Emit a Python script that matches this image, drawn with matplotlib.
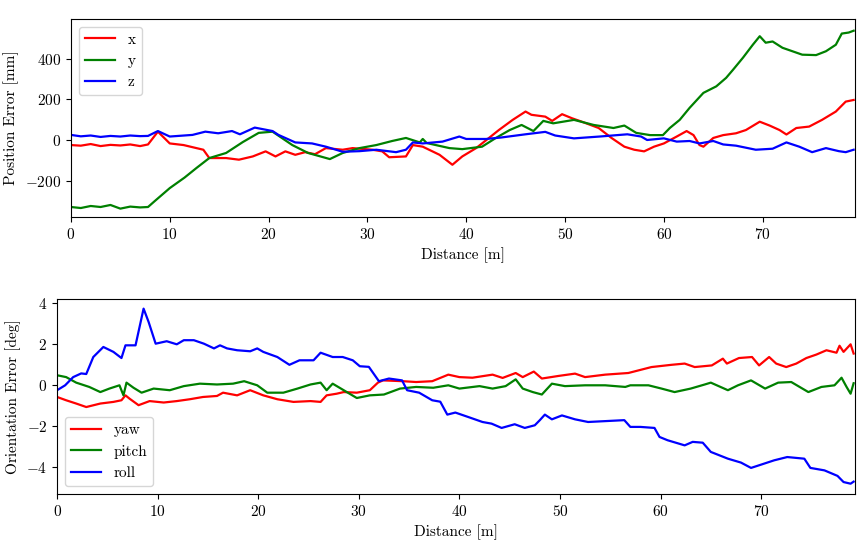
import matplotlib
matplotlib.use('Agg')
import matplotlib.pyplot as plt

# Ustawienia czcionki (Computer Modern)
plt.rcParams['font.family'] = 'serif'
plt.rcParams['font.serif'] = ['cmr10']
plt.rcParams['mathtext.fontset'] = 'cm'
plt.rcParams['axes.formatter.use_mathtext'] = True
plt.rcParams['font.size'] = 11

# Blad pozycji [mm]
dist_x = [0, 1, 2, 3, 4, 5, 6, 7, 7.8, 8.8, 10, 11.4, 12.7, 13.4, 14, 15.7, 17, 18.4, 19.7, 20.7,
          21.7, 22.7, 23.7, 24.7, 25.8, 27.5, 28.5, 30.5, 31.5, 32.2, 33.9, 34.6, 35.6, 37.3, 38.6,
          39.6, 41, 42.3, 43.3, 44.7, 46, 46.6, 48, 48.7, 49.7, 50.7, 51.7, 53.4, 54.7, 56, 57, 58,
          59, 60, 61.3, 62.3, 63, 63.6, 64, 65, 66, 67.3, 68.3, 69.7, 70.7, 71.7, 72.4, 73.4, 74.7,
          76, 77.4, 78.4, 79.2]
err_x = [-25, -28, -20, -30, -24, -27, -22, -30, -22, 41, -17, -25, -40, -48, -89, -89, -97, -81,
         -56, -81, -56, -73, -60, -70, -40, -48, -40, -48, -56, -85, -81, -25, -33, -73, -122, -81,
         -40, 10, 49, 99, 140, 124, 115, 94, 127, 107, 90, 59, 10, -33, -48, -56, -33, -17, 17, 44,
         24, -25, -33, 10, 24, 33, 49, 90, 71, 49, 27, 59, 66, 99, 140, 189, 197]

dist_y = [0, 1, 2, 3, 4, 5, 6, 7, 7.8, 8.5, 10, 11.5, 12.7, 14, 15.7, 17.4, 19, 20.4, 22.4, 24,
          26.2, 27.5, 29.2, 30.9, 32.5, 33.9, 35.3, 35.6, 36, 38.3, 39.6, 41.6, 43, 44.4, 45.6, 46.8,
          47.8, 48.8, 50.9, 52.9, 54.9, 56, 57.2, 58.6, 59.9, 60.6, 61.6, 62.6, 64, 65.3, 66.3, 67,
          68, 69, 69.7, 70.3, 71, 72, 73, 74, 75.4, 76.4, 77.4, 78, 78.7, 79.2]
err_y = [-330, -335, -325, -330, -320, -338, -328, -332, -330, -300, -237, -185, -138, -89, -64,
         -10, 35, 41, -25, -64, -94, -64, -40, -25, -5, 10, -12, 5, -15, -40, -45, -33, 10, 49, 74,
         44, 94, 82, 99, 74, 59, 71, 35, 24, 24, 59, 99, 158, 232, 264, 306, 346, 405, 469, 511,
         479, 485, 454, 437, 420, 418, 437, 469, 524, 529, 538]

dist_z = [0, 1, 2, 3, 4, 5, 6, 7, 7.8, 8.8, 10, 12.3, 13.6, 14.9, 16.3, 17.1, 18.6, 20.4, 21, 22.7,
          24.4, 25.8, 27.5, 29.2, 30.9, 32.9, 33.9, 34.6, 35.6, 37.6, 39.3, 40, 42, 43.5, 46, 48, 49,
          50.9, 53.5, 56.3, 57.7, 58.3, 60, 61.3, 62.6, 63.6, 65, 66, 67.3, 69.3, 71, 72.4, 73.7, 75,
          76.4, 77.7, 78.4, 79.2]
err_z = [25, 18, 22, 15, 20, 17, 22, 19, 20, 44, 17, 25, 41, 33, 44, 28, 61, 44, 25, -12, -17, -33,
         -58, -55, -48, -60, -48, -12, -17, -8, 17, 5, 5, 12, 28, 40, 22, 8, 17, 28, 17, 0, 8, -8,
         -5, -17, -5, -22, -28, -48, -43, -12, -33, -60, -40, -55, -60, -48]

# Blad orientacji [deg]
dist_yaw = [0, 0.9, 1.9, 2.9, 4.3, 5.6, 6.4, 6.8, 7.2, 8.1, 9.2, 10.6, 11.9, 13.2, 14.5, 15.9, 16.5,
            17.9, 19.2, 20.5, 21.9, 23.5, 25.2, 26.2, 26.8, 27.8, 28.5, 29.8, 31.1, 31.9, 32.4, 34.4,
            35.7, 37.3, 38.9, 40, 41.3, 43.3, 44.3, 45.6, 46.3, 47.4, 48.2, 49.9, 51.5, 52.5, 54.5,
            56.8, 59.1, 61.1, 62.4, 63.4, 65.1, 66.2, 66.6, 67.8, 69.1, 69.8, 70.8, 71.5, 72.5, 73.5,
            74.5, 75.5, 76.5, 77.5, 77.8, 78.2, 78.9, 79.2]
err_yaw = [-0.57, -0.73, -0.89, -1.06, -0.89, -0.81, -0.73, -0.49, -0.65, -0.97, -0.77, -0.84,
           -0.77, -0.68, -0.57, -0.52, -0.36, -0.49, -0.24, -0.49, -0.68, -0.81, -0.77, -0.81,
           -0.49, -0.41, -0.33, -0.36, -0.24, 0.13, 0.24, 0.2, 0.16, 0.2, 0.52, 0.4, 0.37, 0.52,
           0.36, 0.6, 0.4, 0.67, 0.33, 0.46, 0.57, 0.4, 0.52, 0.6, 0.89, 1.0, 1.06, 0.89, 0.97, 1.3,
           1.06, 1.33, 1.38, 0.97, 1.38, 1.06, 0.89, 1.06, 1.33, 1.5, 1.71, 1.59, 1.93, 1.63, 2.0,
           1.55]

dist_pitch = [0, 0.9, 1.9, 3.2, 4.3, 5.2, 6.2, 6.6, 6.9, 7.6, 8.4, 9.6, 11.2, 12.6, 14.2, 15.9,
              17.5, 18.6, 19.9, 20.9, 22.5, 23.9, 25.2, 26.2, 26.8, 27.4, 28.5, 29.8, 31.1, 32.5,
              34.1, 35.7, 37.4, 38.9, 40, 42, 43.3, 44.6, 45.6, 46.3, 47.3, 48.2, 49.2, 50.5, 52.5,
              54.5, 56.5, 57, 58.8, 60.1, 61.4, 63, 64.4, 65, 66.7, 67.7, 69, 70.4, 71.7, 73, 74.7,
              76, 77.3, 78, 78.5, 78.9, 79.2]
err_pitch = [0.49, 0.4, 0.13, -0.08, -0.33, -0.16, 0.0, -0.49, 0.13, -0.12, -0.36, -0.16, -0.24,
             -0.04, 0.08, 0.04, 0.08, 0.2, 0, -0.36, -0.36, -0.16, 0.04, 0.13, -0.24, 0.08, -0.24,
             -0.62, -0.49, -0.45, -0.16, -0.08, -0.12, 0, -0.16, -0.04, -0.16, -0.04, 0.29, -0.16,
             -0.33, -0.45, 0.08, -0.04, 0, 0, -0.08, 0, 0, -0.16, -0.33, -0.16, 0.04, 0.13, -0.24,
             0, 0.24, -0.16, 0.13, 0.16, -0.33, -0.08, 0, 0.37, -0.08, -0.41, 0.1]

dist_roll = [0, 0.8, 1.6, 2.4, 2.9, 3.6, 4.6, 5.6, 6.4, 6.8, 7.8, 8.6, 9.1, 9.8, 10.9, 11.9, 12.6,
             13.6, 14.6, 15.6, 16.2, 16.9, 17.9, 19.2, 19.9, 20.5, 21.9, 23.1, 24.1, 25.5, 26.2,
             27.4, 28.4, 29.4, 30.1, 31, 32, 33, 34.3, 34.8, 36, 37.3, 38.1, 38.8, 39.6, 40.9, 42.3,
             43.2, 44.2, 45.5, 46.5, 47.5, 48, 48.5, 49.2, 50.2, 51.5, 52.8, 54.4, 56.4, 57, 58,
             59.4, 59.9, 60.7, 62.4, 63.2, 64.2, 65, 66.7, 68, 69, 70, 71.3, 72.6, 74.3, 74.9, 76.3,
             77.6, 78.2, 78.9, 79.2]
err_roll = [-0.24, 0, 0.4, 0.58, 0.55, 1.38, 1.87, 1.63, 1.33, 1.95, 1.95, 3.74, 3.09, 2.03, 2.15,
            2.0, 2.2, 2.2, 2.03, 1.8, 1.95, 1.8, 1.71, 1.66, 1.8, 1.63, 1.38, 1.0, 1.22, 1.22, 1.59,
            1.38, 1.38, 1.22, 0.93, 0.9, 0.2, 0.33, 0.24, -0.24, -0.36, -0.73, -0.8, -1.43, -1.33,
            -1.55, -1.79, -1.87, -2.08, -1.9, -2.08, -1.95, -1.7, -1.43, -1.66, -1.47, -1.66, -1.79,
            -1.75, -1.7, -2.03, -2.03, -2.08, -2.52, -2.68, -2.93, -2.76, -2.8, -3.25, -3.58, -3.77,
            -4.03, -3.87, -3.66, -3.5, -3.58, -4.03, -4.15, -4.42, -4.72, -4.8, -4.7]

fig = plt.figure(figsize=(8.65, 5.47), dpi=100)

# Wykres bledu pozycji
ax1 = fig.add_axes([0.082, 0.603, 0.906, 0.362])
ax1.plot(dist_x, err_x, color='red', lw=1.6, label='x')
ax1.plot(dist_y, err_y, color='green', lw=1.6, label='y')
ax1.plot(dist_z, err_z, color='blue', lw=1.6, label='z')
ax1.set_xlim(0, 79.3)
ax1.set_ylim(-380, 595)
ax1.set_yticks([-200, 0, 200, 400])
ax1.set_xlabel('Distance [m]')
ax1.set_ylabel('Position Error [mm]')
ax1.legend(loc='upper left')

# Wykres bledu orientacji
ax2 = fig.add_axes([0.066, 0.097, 0.922, 0.356])
ax2.plot(dist_yaw, err_yaw, color='red', lw=1.6, label='yaw')
ax2.plot(dist_pitch, err_pitch, color='green', lw=1.6, label='pitch')
ax2.plot(dist_roll, err_roll, color='blue', lw=1.6, label='roll')
ax2.set_xlim(0, 79.3)
ax2.set_ylim(-5.3, 4.2)
ax2.set_yticks([-4, -2, 0, 2, 4])
ax2.set_xlabel('Distance [m]')
ax2.set_ylabel('Orientation Error [deg]')
ax2.legend(loc='lower left')

fig.savefig('out.png', dpi=100)
